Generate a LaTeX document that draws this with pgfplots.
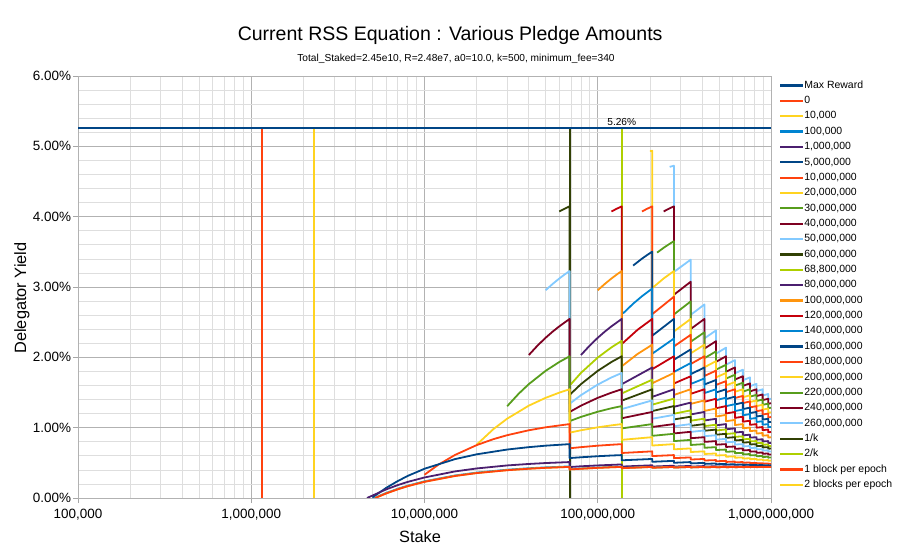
\documentclass[border=0pt]{standalone}
\usepackage{pgfplots}
\pgfplotsset{compat=1.18}
\usepackage{fontspec}
\setmainfont{Liberation Sans}
\definecolor{cDB}{HTML}{004586}
\definecolor{cOR}{HTML}{FF420E}
\definecolor{cYE}{HTML}{FFD320}
\definecolor{cGR}{HTML}{579D1C}
\definecolor{cDR}{HTML}{7E0021}
\definecolor{cLB}{HTML}{83CAFF}
\definecolor{cOL}{HTML}{314004}
\definecolor{cYG}{HTML}{AECF00}
\definecolor{cPU}{HTML}{4B1F6F}
\definecolor{cOG}{HTML}{FF950E}
\definecolor{cRE}{HTML}{C5000B}
\definecolor{cBL}{HTML}{0084D1}
\begin{document}
\begin{tikzpicture}
\begin{axis}[
  at={(78bp,58bp)}, anchor=south west,
  scale only axis, width=693bp, height=422bp,
  xmode=log, xmin=1e5, xmax=1e9, ymin=0, ymax=6,
  xtick={1e5,1e6,1e7,1e8,1e9},
  xticklabels={{100,000},{1,000,000},{10,000,000},{100,000,000},{1,000,000,000}},
  minor xtick={2e5,3e5,4e5,5e5,6e5,7e5,8e5,9e5,2e6,3e6,4e6,5e6,6e6,7e6,8e6,9e6,2e7,3e7,4e7,5e7,6e7,7e7,8e7,9e7,2e8,3e8,4e8,5e8,6e8,7e8,8e8,9e8},
  ytick={0,1,2,3,4,5,6},
  yticklabels={0.00\%,1.00\%,2.00\%,3.00\%,4.00\%,5.00\%,6.00\%},
  minor ytick={0.2,0.4,0.6,0.8,1.2,1.4,1.6,1.8,2.2,2.4,2.6,2.8,3.2,3.4,3.6,3.8,4.2,4.4,4.6,4.8,5.2,5.4,5.6,5.8},
  grid=both,
  major grid style={draw=black!30, line width=0.7bp},
  minor grid style={draw=black!13, line width=0.7bp},
  axis line style={draw=black!30, line width=0.7bp},
  tick style={draw=black!35, line width=0.7bp},
  tick align=outside, tick pos=left,
  major tick length=5bp, minor tick length=0bp,
  tick label style={font=\fontsize{13.5}{15}\selectfont},
  xticklabel style={yshift=-3bp},
  yticklabel style={xshift=1.5bp},
  xlabel={Stake}, ylabel={Delegator Yield},
  label style={font=\fontsize{16.4}{19}\selectfont},
  xlabel style={at={(axis description cs:0.4935,0)}, anchor=center, yshift=-39bp},
  ylabel style={at={(axis description cs:0,0.474)}, anchor=center, yshift=56bp},
  title={Current RSS Equation : Various Pledge Amounts},
  title style={at={(axis description cs:0.537,1)}, anchor=center, yshift=35bp, font=\fontsize{19.6}{22}\selectfont},
  legend style={at={(1,1)}, anchor=north west, xshift=8bp, yshift=-4bp, draw=none, fill=none,
    font=\fontsize{10.5}{12}\selectfont, row sep=4.86bp, inner sep=0pt,
    nodes={inner sep=0pt, text height=8bp, text depth=2.5bp}},
  legend cell align=left,
  legend image code/.code={\draw[#1, line width=2.2bp] (0bp,0bp) -- (23bp,0bp);},
  reverse legend,
  every axis plot/.append style={line width=1.8bp, line join=round, mark=none},
]
% ---- drawn in reverse order (earlier series on top) ----
\addplot[cYE] coordinates {(2.3e6,0) (2.3e6,5.26)};
\addlegendentry{2 blocks per epoch}
\addplot[cOR] coordinates {(1.15e6,0) (1.15e6,5.26)};
\addlegendentry{1 block per epoch}
\addplot[cYG] coordinates {(1.376e8,0) (1.376e8,5.26)};
\addlegendentry{2/k}
\addplot[cOL] coordinates {(6.88e7,0) (6.88e7,5.26)};
\addlegendentry{1/k}
% 260M
\addplot[cLB] coordinates {(2.6e8,4.708) (2.752e8,4.724)
(2.752e8,3.214) (3.44e8,3.389) (3.44e8,2.604) (4.128e8,2.752)
(4.128e8,2.270) (4.816e8,2.383) (4.816e8,2.052) (5.504e8,2.138)
(5.504e8,1.895) (6.192e8,1.961) (6.192e8,1.773) (6.88e8,1.824)
(6.88e8,1.674) (7.568e8,1.715) (7.568e8,1.590) (8.256e8,1.623)
(8.256e8,1.519) (8.944e8,1.546) (8.944e8,1.456) (9.632e8,1.479)
(9.632e8,1.401) (1e9,1.411)};
\addlegendentry{260,000,000}
% 240M
\addplot[cDR] coordinates {(2.4e8,4.074) (2.56e8,4.110) (2.752e8,4.147)
(2.752e8,2.890) (3.44e8,3.075) (3.44e8,2.403) (4.128e8,2.546)
(4.128e8,2.124) (4.816e8,2.230) (4.816e8,1.936) (5.504e8,2.015)
(5.504e8,1.796) (6.192e8,1.856) (6.192e8,1.685) (6.88e8,1.731)
(6.88e8,1.594) (7.568e8,1.630) (7.568e8,1.516) (8.256e8,1.546)
(8.256e8,1.449) (8.944e8,1.473) (8.944e8,1.391) (9.632e8,1.411)
(9.632e8,1.339) (1e9,1.348)};
\addlegendentry{240,000,000}
% 220M
\addplot[cGR] coordinates {(2.2e8,3.489) (2.4e8,3.557) (2.6e8,3.614) (2.752e8,3.652)
(2.752e8,2.610) (3.44e8,2.795) (3.44e8,2.222) (4.128e8,2.356)
(4.128e8,1.988) (4.816e8,2.085) (4.816e8,1.824) (5.504e8,1.895)
(5.504e8,1.699) (6.192e8,1.752) (6.192e8,1.598) (6.88e8,1.639)
(6.88e8,1.513) (7.568e8,1.546) (7.568e8,1.441) (8.256e8,1.467)
(8.256e8,1.379) (8.944e8,1.400) (8.944e8,1.324) (9.632e8,1.342)
(9.632e8,1.276) (1e9,1.284)};
\addlegendentry{220,000,000}
% 200M
\addplot[cYE] coordinates {(2e8,4.931) (2.064e8,4.937)
(2.064e8,2.985) (2.4e8,3.121) (2.752e8,3.227)
(2.752e8,2.368) (3.44e8,2.546) (3.44e8,2.057) (4.128e8,2.180)
(4.128e8,1.859) (4.816e8,1.946) (4.816e8,1.715) (5.504e8,1.778)
(5.504e8,1.602) (6.192e8,1.649) (6.192e8,1.510) (6.88e8,1.546)
(6.88e8,1.432) (7.568e8,1.460) (7.568e8,1.365) (8.256e8,1.388)
(8.256e8,1.307) (8.944e8,1.326) (8.944e8,1.256) (9.632e8,1.272)
(9.632e8,1.211) (1e9,1.218)};
\addlegendentry{200,000,000}
% 180M
\addplot[cOR] coordinates {(1.8e8,4.074) (1.92e8,4.110) (2.064e8,4.147)
(2.064e8,2.614) (2.752e8,2.862) (2.752e8,2.155) (3.44e8,2.320)
(3.44e8,1.905) (4.128e8,2.015) (4.128e8,1.735) (4.816e8,1.811)
(4.816e8,1.608) (5.504e8,1.662) (5.504e8,1.505) (6.192e8,1.546)
(6.192e8,1.421) (6.88e8,1.452) (6.88e8,1.349) (7.568e8,1.373)
(7.568e8,1.288) (8.256e8,1.307) (8.256e8,1.234) (8.944e8,1.250)
(8.944e8,1.187) (9.632e8,1.200) (9.632e8,1.145) (1e9,1.151)};
\addlegendentry{180,000,000}
% 160M
\addplot[cDB] coordinates {(1.6e8,3.305) (1.8e8,3.403) (1.95e8,3.463) (2.064e8,3.503)
(2.064e8,2.308) (2.752e8,2.546) (2.752e8,1.966) (3.44e8,2.113)
(3.44e8,1.760) (4.128e8,1.856) (4.128e8,1.614) (4.816e8,1.678)
(4.816e8,1.500) (5.504e8,1.546) (5.504e8,1.407) (6.192e8,1.441)
(6.192e8,1.330) (6.88e8,1.356) (6.88e8,1.264) (7.568e8,1.285)
(7.568e8,1.208) (8.256e8,1.224) (8.256e8,1.159) (8.944e8,1.172)
(8.944e8,1.115) (9.632e8,1.126) (9.632e8,1.077) (1e9,1.082)};
\addlegendentry{160,000,000}
% 140M
\addplot[cBL] coordinates {(1.4e8,2.625) (1.6e8,2.762) (1.8e8,2.869) (2.064e8,2.978)
(2.064e8,2.052) (2.752e8,2.267) (2.752e8,1.792) (3.44e8,1.919)
(3.44e8,1.621) (4.128e8,1.700) (4.128e8,1.492) (4.816e8,1.546)
(4.816e8,1.390) (5.504e8,1.428) (5.504e8,1.306) (6.192e8,1.334)
(6.192e8,1.236) (6.88e8,1.258) (6.88e8,1.176) (7.568e8,1.193)
(7.568e8,1.125) (8.256e8,1.139) (8.256e8,1.081) (8.944e8,1.092)
(8.944e8,1.042) (9.632e8,1.051) (9.632e8,1.007) (1e9,1.011)};
\addlegendentry{140,000,000}
% 120M
\addplot[cRE] coordinates {(1.2e8,4.074) (1.28e8,4.110) (1.376e8,4.147)
(1.376e8,2.189) (1.7e8,2.393) (2.064e8,2.546)
(2.064e8,1.832) (2.752e8,2.015) (2.752e8,1.628) (3.44e8,1.731)
(3.44e8,1.481) (4.128e8,1.546) (4.128e8,1.368) (4.816e8,1.411)
(4.816e8,1.276) (5.504e8,1.307) (5.504e8,1.202) (6.192e8,1.224)
(6.192e8,1.139) (6.88e8,1.156) (6.88e8,1.085) (7.568e8,1.099)
(7.568e8,1.040) (8.256e8,1.051) (8.256e8,1.000) (8.944e8,1.009)
(8.944e8,0.965) (9.632e8,0.973) (9.632e8,0.934) (1e9,0.938)};
\addlegendentry{120,000,000}
% 100M
\addplot[cOG] coordinates {(1e8,2.954) (1.1e8,3.045) (1.2e8,3.121) (1.3e8,3.185) (1.376e8,3.227)
(1.376e8,1.873) (1.7e8,2.049) (2.064e8,2.180)
(2.064e8,1.632) (2.752e8,1.778) (2.752e8,1.465) (3.44e8,1.546)
(3.44e8,1.338) (4.128e8,1.388) (4.128e8,1.238) (4.816e8,1.272)
(4.816e8,1.158) (5.504e8,1.182) (5.504e8,1.092) (6.192e8,1.110)
(6.192e8,1.037) (6.88e8,1.051) (6.88e8,0.991) (7.568e8,1.002)
(7.568e8,0.951) (8.256e8,0.960) (8.256e8,0.916) (8.944e8,0.924)
(8.944e8,0.886) (9.632e8,0.892) (9.632e8,0.860) (1e9,0.863)};
\addlegendentry{100,000,000}
% 80M
\addplot[cPU] coordinates {(8e7,2.033) (9e7,2.169) (1e8,2.278) (1.1e8,2.367) (1.2e8,2.441) (1.376e8,2.546)
(1.376e8,1.618) (2.064e8,1.856) (2.064e8,1.438) (2.752e8,1.546)
(2.752e8,1.297) (3.44e8,1.356) (3.44e8,1.188) (4.128e8,1.224)
(4.128e8,1.102) (4.816e8,1.126) (4.816e8,1.033) (5.504e8,1.051)
(5.504e8,0.977) (6.192e8,0.990) (6.192e8,0.931) (6.88e8,0.941)
(6.88e8,0.891) (7.568e8,0.900) (7.568e8,0.858) (8.256e8,0.865)
(8.256e8,0.829) (8.944e8,0.835) (8.944e8,0.804) (9.632e8,0.809)
(9.632e8,0.782) (1e9,0.784)};
\addlegendentry{80,000,000}
% 68.8M
\addplot[cYG] coordinates {(6.9e7,1.601) (8e7,1.779) (1e8,1.997) (1.2e8,2.142) (1.376e8,2.235)
(1.376e8,1.487) (2.064e8,1.682) (2.064e8,1.327) (2.752e8,1.413)
(2.752e8,1.198) (3.44e8,1.246) (3.44e8,1.099) (4.128e8,1.128)
(4.128e8,1.022) (4.816e8,1.042) (4.816e8,0.960) (5.504e8,0.975)
(5.504e8,0.910) (6.192e8,0.921) (6.192e8,0.869) (6.88e8,0.877)
(6.88e8,0.834) (7.568e8,0.841) (7.568e8,0.804) (8.256e8,0.810)
(8.256e8,0.779) (8.944e8,0.784) (8.944e8,0.757) (9.632e8,0.761)
(9.632e8,0.737) (1e9,0.739)};
\addlegendentry{68,800,000}
% 60M
\addplot[cOL] coordinates {(6e7,4.074) (6.4e7,4.110) (6.88e7,4.147)
(6.88e7,1.466) (8e7,1.619) (1e8,1.808) (1.2e8,1.934) (1.376e8,2.015)
(1.376e8,1.384) (2.064e8,1.546) (2.064e8,1.236) (2.752e8,1.307)
(2.752e8,1.117) (3.44e8,1.156) (3.44e8,1.026) (4.128e8,1.051)
(4.128e8,0.956) (4.816e8,0.973) (4.816e8,0.900) (5.504e8,0.913)
(5.504e8,0.855) (6.192e8,0.865) (6.192e8,0.818) (6.88e8,0.826)
(6.88e8,0.787) (7.568e8,0.794) (7.568e8,0.761) (8.256e8,0.766)
(8.256e8,0.738) (8.944e8,0.743) (8.944e8,0.719) (9.632e8,0.723)
(9.632e8,0.701) (1e9,0.703)};
\addlegendentry{60,000,000}
% 50M
\addplot[cLB] coordinates {(5e7,2.954) (5.5e7,3.045) (6e7,3.121) (6.5e7,3.185) (6.88e7,3.227)
(6.88e7,1.340) (8e7,1.462) (1e8,1.613) (1.2e8,1.714) (1.376e8,1.778)
(1.376e8,1.264) (2.064e8,1.388) (2.064e8,1.127) (2.752e8,1.182)
(2.752e8,1.020) (3.44e8,1.051) (3.44e8,0.940) (4.128e8,0.960)
(4.128e8,0.879) (4.816e8,0.892) (4.816e8,0.830) (5.504e8,0.841)
(5.504e8,0.792) (6.192e8,0.800) (6.192e8,0.760) (6.88e8,0.766)
(6.88e8,0.733) (7.568e8,0.739) (7.568e8,0.710) (8.256e8,0.715)
(8.256e8,0.691) (8.944e8,0.695) (8.944e8,0.674) (9.632e8,0.678)
(9.632e8,0.660) (1e9,0.662)};
\addlegendentry{50,000,000}
% 40M
\addplot[cDR] coordinates {(4e7,2.033) (4.5e7,2.169) (5e7,2.278) (5.5e7,2.367) (6e7,2.441) (6.88e7,2.546)
(6.88e7,1.223) (8e7,1.313) (1e8,1.424) (1.2e8,1.498) (1.376e8,1.546)
(1.376e8,1.134) (2.064e8,1.224) (2.064e8,1.010) (2.752e8,1.051)
(2.752e8,0.918) (3.44e8,0.941) (3.44e8,0.850) (4.128e8,0.865)
(4.128e8,0.798) (4.816e8,0.809) (4.816e8,0.758) (5.504e8,0.766)
(5.504e8,0.726) (6.192e8,0.732) (6.192e8,0.699) (6.88e8,0.705)
(6.88e8,0.677) (7.568e8,0.682) (7.568e8,0.659) (8.256e8,0.663)
(8.256e8,0.643) (8.944e8,0.647) (8.944e8,0.629) (9.632e8,0.633)
(9.632e8,0.618) (1e9,0.619)};
\addlegendentry{40,000,000}
% 30M
\addplot[cGR] coordinates {(3e7,1.305) (3.5e7,1.484) (4e7,1.619) (5e7,1.808) (6e7,1.934) (6.88e7,2.015)
(6.88e7,1.093) (8e7,1.153) (1e8,1.227) (1.2e8,1.276) (1.376e8,1.307)
(1.376e8,0.990) (2.064e8,1.051) (2.064e8,0.884) (2.752e8,0.913)
(2.752e8,0.809) (3.44e8,0.826) (3.44e8,0.754) (4.128e8,0.766)
(4.128e8,0.714) (4.816e8,0.723) (4.816e8,0.682) (5.504e8,0.689)
(5.504e8,0.657) (6.192e8,0.663) (6.192e8,0.637) (6.88e8,0.642)
(6.88e8,0.620) (7.568e8,0.625) (7.568e8,0.606) (8.256e8,0.610)
(8.256e8,0.594) (8.944e8,0.597) (8.944e8,0.583) (9.632e8,0.587)
(9.632e8,0.574) (1e9,0.576)};
\addlegendentry{30,000,000}
% 20M
\addplot[cYE] coordinates {(2e7,0.758) (2.5e7,0.980) (3e7,1.128) (4e7,1.313) (5e7,1.424) (6e7,1.498) (6.88e7,1.546)
(6.88e7,0.929) (8e7,0.963) (1e8,1.005) (1.2e8,1.033) (1.376e8,1.051)
(1.376e8,0.827) (2.064e8,0.865) (2.064e8,0.746) (2.752e8,0.766)
(2.752e8,0.692) (3.44e8,0.705) (3.44e8,0.654) (4.128e8,0.663)
(4.128e8,0.626) (4.816e8,0.633) (4.816e8,0.604) (5.504e8,0.610)
(5.504e8,0.587) (6.192e8,0.592) (6.192e8,0.573) (6.88e8,0.577)
(6.88e8,0.561) (7.568e8,0.565) (7.568e8,0.552) (8.256e8,0.555)
(8.256e8,0.544) (8.944e8,0.547) (8.944e8,0.536) (9.632e8,0.539)
(9.632e8,0.530) (1e9,0.532)};
\addlegendentry{20,000,000}
% 10M
\addplot[cOR] coordinates {(1e7,0.331) (1.2e7,0.472) (1.5e7,0.612) (2e7,0.752) (2.5e7,0.837) (3e7,0.893) (4e7,0.963) (5e7,1.005) (6.88e7,1.051)
(6.88e7,0.707) (8e7,0.723) (1e8,0.744) (1.2e8,0.757) (1.376e8,0.766)
(1.376e8,0.640) (2.064e8,0.663) (2.064e8,0.596) (2.752e8,0.610)
(2.752e8,0.567) (3.44e8,0.577) (3.44e8,0.547) (4.128e8,0.555)
(4.128e8,0.533) (4.816e8,0.539) (4.816e8,0.522) (5.504e8,0.528)
(5.504e8,0.513) (6.192e8,0.518) (6.192e8,0.507) (6.88e8,0.511)
(6.88e8,0.501) (7.568e8,0.505) (7.568e8,0.496) (8.256e8,0.499)
(8.256e8,0.492) (8.944e8,0.495) (8.944e8,0.488) (9.632e8,0.491)
(9.632e8,0.485) (1e9,0.487)};
\addlegendentry{10,000,000}
% 5M
\addplot[cDB] coordinates {(5e6,0.007) (6e6,0.143) (7e6,0.240) (8e6,0.314) (1e7,0.416) (1.5e7,0.553) (2e7,0.621) (3e7,0.689) (4e7,0.723) (5e7,0.744) (6.88e7,0.766)
(6.88e7,0.568) (8e7,0.579) (1e8,0.594) (1.2e8,0.604) (1.376e8,0.610)
(1.376e8,0.536) (2.064e8,0.555) (2.064e8,0.515) (2.752e8,0.528)
(2.752e8,0.501) (3.44e8,0.511) (3.44e8,0.492) (4.128e8,0.499)
(4.128e8,0.485) (4.816e8,0.491) (4.816e8,0.480) (5.504e8,0.485)
(5.504e8,0.476) (6.192e8,0.480) (6.192e8,0.473) (6.88e8,0.477)
(6.88e8,0.470) (7.568e8,0.474) (7.568e8,0.468) (8.256e8,0.471)
(8.256e8,0.466) (8.944e8,0.469) (8.944e8,0.464) (9.632e8,0.467)
(9.632e8,0.463) (1e9,0.464)};
\addlegendentry{5,000,000}
% 1M
\addplot[cPU] coordinates {(4.66e6,0) (6e6,0.122) (7e6,0.183) (8e6,0.229) (1e7,0.292) (1.5e7,0.378) (2e7,0.420) (3e7,0.463) (4e7,0.484) (5e7,0.497) (6.88e7,0.511)
(6.88e7,0.440) (8e7,0.451) (1e8,0.463) (1.2e8,0.471) (1.376e8,0.477)
(1.376e8,0.447) (2.064e8,0.465) (2.064e8,0.447) (2.752e8,0.459)
(2.752e8,0.447) (3.44e8,0.456) (3.44e8,0.446) (4.128e8,0.454)
(4.128e8,0.446) (4.816e8,0.452) (4.816e8,0.446) (5.504e8,0.451)
(5.504e8,0.445) (6.192e8,0.450) (6.192e8,0.445) (6.88e8,0.449)
(6.88e8,0.445) (7.568e8,0.448) (7.568e8,0.445) (8.256e8,0.448)
(8.256e8,0.444) (8.944e8,0.447) (8.944e8,0.444) (9.632e8,0.447)
(9.632e8,0.444) (1e9,0.446)};
\addlegendentry{1,000,000}
% 100k
\addplot[cBL] coordinates {(5.12e6,0) (6e6,0.071) (7e6,0.130) (8e6,0.175) (1e7,0.237) (1.5e7,0.320) (2e7,0.361) (3e7,0.402) (4e7,0.423) (5e7,0.435) (6.88e7,0.449)
(6.88e7,0.410) (8e7,0.420) (1e8,0.432) (1.2e8,0.440) (1.376e8,0.446)
(1.376e8,0.426) (2.064e8,0.444) (2.064e8,0.430) (2.752e8,0.442)
(2.752e8,0.433) (3.44e8,0.442) (3.44e8,0.435) (4.128e8,0.442)
(4.128e8,0.436) (4.816e8,0.442) (4.816e8,0.437) (5.504e8,0.442)
(5.504e8,0.438) (6.192e8,0.442) (6.192e8,0.438) (6.88e8,0.442)
(6.88e8,0.4385) (7.568e8,0.442) (7.568e8,0.439) (8.256e8,0.442)
(8.256e8,0.439) (8.944e8,0.442) (8.944e8,0.4393) (9.632e8,0.442)
(9.632e8,0.4395) (1e9,0.441)};
\addlegendentry{100,000}
% 10k
\addplot[cYE] coordinates {(5.18e6,0) (6e6,0.065) (7e6,0.124) (8e6,0.169) (1e7,0.231) (1.5e7,0.314) (2e7,0.355) (3e7,0.396) (4e7,0.417) (5e7,0.429) (6.88e7,0.443)
(6.88e7,0.406) (8e7,0.416) (1e8,0.429) (1.2e8,0.437) (1.376e8,0.442)
(1.376e8,0.424) (2.064e8,0.442) (2.064e8,0.430) (2.752e8,0.442)
(2.752e8,0.433) (3.44e8,0.442) (3.44e8,0.435) (4.128e8,0.442)
(4.128e8,0.436) (4.816e8,0.442) (4.816e8,0.437) (5.504e8,0.442)
(5.504e8,0.438) (6.192e8,0.442) (6.192e8,0.438) (6.88e8,0.442)
(6.88e8,0.4385) (7.568e8,0.442) (7.568e8,0.439) (8.256e8,0.442)
(8.256e8,0.439) (8.944e8,0.442) (8.944e8,0.4393) (9.632e8,0.442)
(9.632e8,0.4395) (1e9,0.441)};
\addlegendentry{10,000}
% 0
\addplot[cOR] coordinates {(5.19e6,0) (6e6,0.064) (7e6,0.123) (8e6,0.168) (1e7,0.230) (1.5e7,0.313) (2e7,0.354) (3e7,0.395) (4e7,0.416) (5e7,0.429) (6.88e7,0.442)
(6.88e7,0.406) (8e7,0.416) (1e8,0.429) (1.2e8,0.437) (1.376e8,0.442)
(1.376e8,0.424) (2.064e8,0.442) (2.064e8,0.430) (2.752e8,0.442)
(2.752e8,0.433) (3.44e8,0.442) (3.44e8,0.435) (4.128e8,0.442)
(4.128e8,0.436) (4.816e8,0.442) (4.816e8,0.437) (5.504e8,0.442)
(5.504e8,0.438) (6.192e8,0.442) (6.192e8,0.438) (6.88e8,0.442)
(6.88e8,0.4385) (7.568e8,0.442) (7.568e8,0.439) (8.256e8,0.442)
(8.256e8,0.439) (8.944e8,0.442) (8.944e8,0.4393) (9.632e8,0.442)
(9.632e8,0.4395) (1e9,0.441)};
\addlegendentry{0}
% Max reward
\addplot[cDB, line width=2.2bp] coordinates {(1e5,5.26) (1e9,5.26)};
\addlegendentry{Max Reward}
\node[anchor=south, font=\fontsize{10.2}{12}\selectfont, inner sep=1bp] at (axis cs:1.376e8,5.26) [yshift=1.5bp] {5.26\%};
\end{axis}
\node[anchor=center, font=\fontsize{10.2}{12}\selectfont] at (456bp,497bp) {Total\_Staked=2.45e10, R=2.48e7, a0=10.0, k=500, minimum\_fee=340};
\pgfresetboundingbox
\path[use as bounding box] (0,0) rectangle (900bp,556bp);
\end{tikzpicture}
\end{document}
